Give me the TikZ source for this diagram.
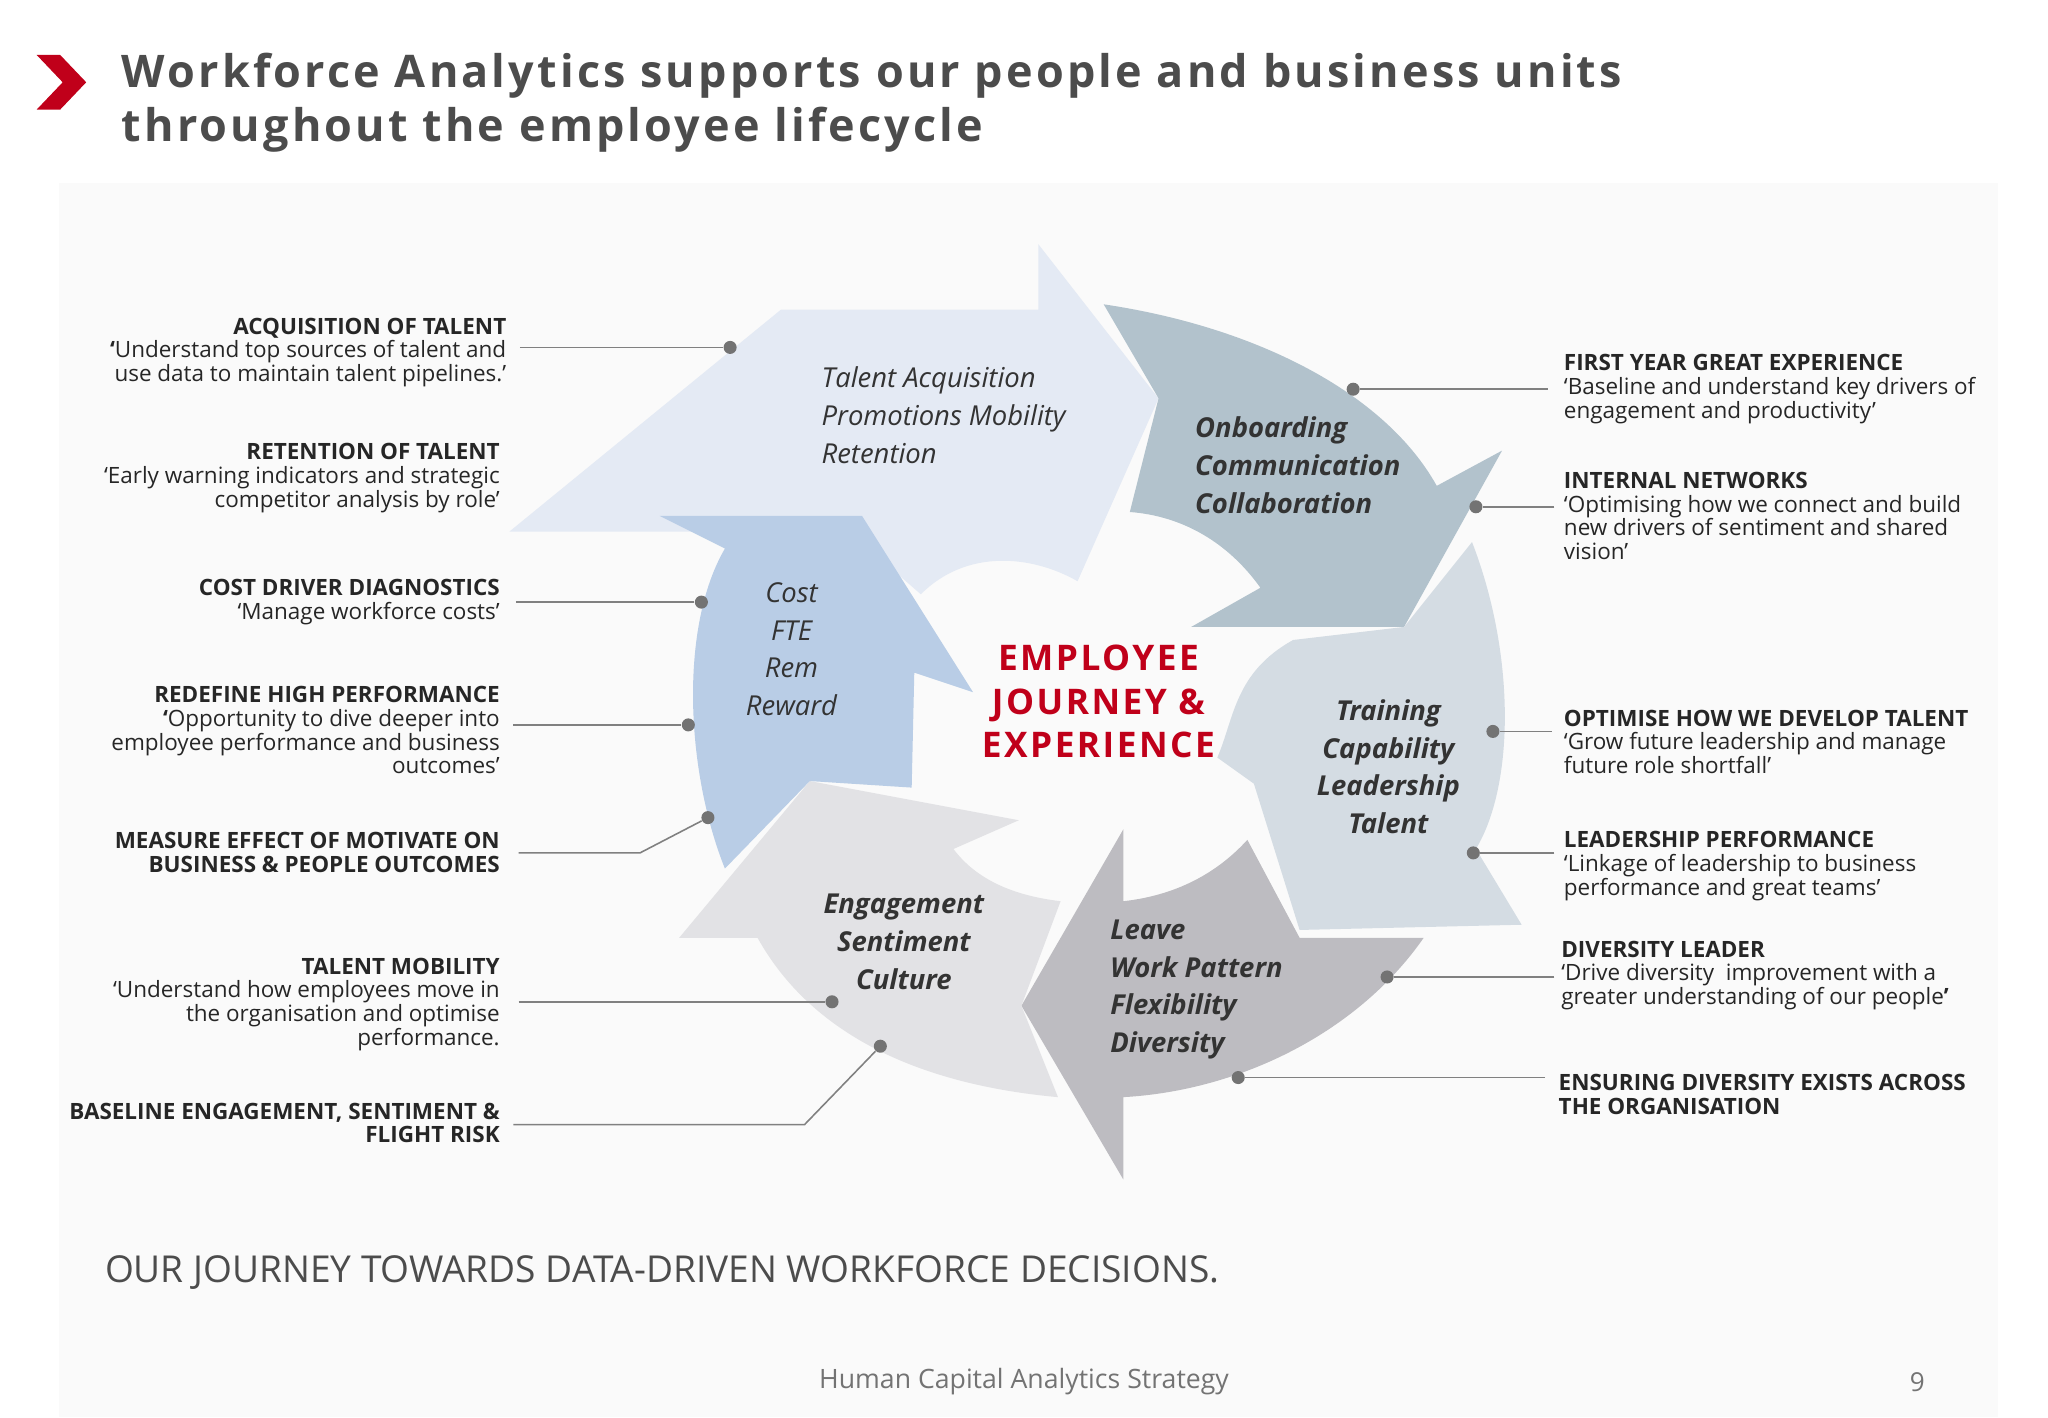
\documentclass[tikz,border=0pt]{standalone}
\usepackage{fontspec}
\setmainfont{Open Sans}
\newfontfamily\titlefont[LetterSpace=7]{Open Sans}
\definecolor{cA}{HTML}{E4EAF4}
\definecolor{cB}{HTML}{B2C2CC}
\definecolor{cC}{HTML}{D4DCE3}
\definecolor{cD}{HTML}{BDBCC1}
\definecolor{cE}{HTML}{E2E2E5}
\definecolor{cF}{HTML}{B9CDE6}
\definecolor{redc}{HTML}{C0001A}
\begin{document}
\begin{tikzpicture}[x=0.5pt,y=-0.5pt,
  lab/.style={font=\fontsize{8.6}{9.1}\selectfont,inner sep=0pt,text=black!85},
  labl/.style={lab,align=right,anchor=north east},
  labr/.style={lab,align=left,anchor=north west},
  conn/.style={draw=black!50,line width=0.6pt},
  dot/.style={circle,fill=black!55,inner sep=0pt,minimum size=5pt},
  cyc/.style={font=\fontsize{10.5}{14.5}\selectfont\itshape,align=left,text=black!80},
  cycb/.style={cyc,font=\fontsize{10.5}{14.5}\selectfont\bfseries\itshape}]
\useasboundingbox (0,0) rectangle (1568,1085);
\fill[white] (0,0) rectangle (1568,1085);
\fill[black!2] (45,140) rectangle (1530,1085);
% logo
\fill[redc] (28,42) -- (46,42) -- (66,63) -- (46,84) -- (28,84) -- (48,63) -- cycle;
\node[anchor=north west,inner sep=0pt,align=left,text=black!70,font=\titlefont\fontsize{17.2}{21}\selectfont\bfseries] (title) at (93,40) {Workforce Analytics supports our people and business units\\throughout the employee lifecycle};
% arrows
\fill[cA] (390,407) -- (598,237) -- (795,237) -- (795,187) -- (887,305) -- (825,445)
  .. controls (790,425) and (740,420) .. (705,455) -- (650,407) -- cycle;
\fill[cB] (845,233) .. controls (960,250) and (1060,300) .. (1100,372) -- (1150,345) -- (1075,480) -- (912,480) -- (965,450)
  .. controls (940,415) and (905,395) .. (865,392) -- (887,305) -- cycle;
\fill[cC] (1075,480) -- (1127,415) .. controls (1160,500) and (1160,600) .. (1130,650) -- (1165,708) -- (995,712) -- (960,600) -- (932,580)
  .. controls (945,550) and (945,515) .. (990,490) -- cycle;
\fill[cD] (1090,718) .. controls (1040,790) and (950,835) .. (860,840) -- (860,903) -- (782,770) -- (860,635) -- (860,690)
  .. controls (905,685) and (935,665) .. (955,643) -- (995,718) -- cycle;
\fill[cE] (620,598) -- (780,628) -- (730,650) .. controls (745,670) and (770,685) .. (812,690) -- (782,770) -- (810,840)
  .. controls (700,830) and (620,790) .. (580,718) -- (520,718) -- cycle;
\fill[cF] (505,395) -- (660,395) -- (745,530) -- (700,515) -- (698,603) -- (620,598) -- (555,665)
  .. controls (525,590) and (520,480) .. (555,420) -- cycle;
% cycle texts
\node[cyc,anchor=north west] (ta) at (622,274) {Talent Acquisition\\Promotions Mobility\\Retention};
\node[cycb,anchor=north west] (ob) at (908,312) {Onboarding\\Communication\\Collaboration};
\node[cyc,align=center] (cf) at (606,497) {Cost\\FTE\\Rem\\Reward};
\node[cycb,align=center] (tr) at (1063,587) {Training\\Capability\\Leadership\\Talent};
\node[cycb,align=center] (en) at (692,721) {Engagement\\Sentiment\\Culture};
\node[cycb,anchor=north west] (lv) at (843,697) {Leave\\Work Pattern\\Flexibility\\Diversity};
\node[align=center,text=redc,font=\titlefont\fontsize{13.5}{16.5}\selectfont\bfseries] (ctr) at (841,537) {EMPLOYEE\\JOURNEY \&\\EXPERIENCE};
% left labels
\node[labl] (l1) at (388,243) {\textbf{ACQUISITION OF TALENT}\\\textbf{‘}Understand top sources of talent and\\use data to maintain talent pipelines.’};
\node[labl] (l2) at (383,339) {\textbf{RETENTION OF TALENT}\\‘Early warning indicators and strategic\\competitor analysis by role’};
\node[labl] (l3) at (383,443) {\textbf{COST DRIVER DIAGNOSTICS}\\‘Manage workforce costs’};
\node[labl] (l4) at (383,525) {\textbf{REDEFINE HIGH PERFORMANCE}\\\textbf{‘}Opportunity to dive deeper into\\employee performance and business\\outcomes’};
\node[labl] (l5) at (383,637) {\textbf{MEASURE EFFECT OF MOTIVATE ON}\\\textbf{BUSINESS \& PEOPLE OUTCOMES}};
\node[labl] (l6) at (383,733) {\textbf{TALENT MOBILITY}\\‘Understand how employees move in\\the organisation and optimise\\performance.};
\node[labl] (l7) at (383,844) {\textbf{BASELINE ENGAGEMENT, SENTIMENT \&}\\\textbf{FLIGHT RISK}};
% right labels
\node[labr] (r1) at (1197,271) {\textbf{FIRST YEAR GREAT EXPERIENCE}\\‘Baseline and understand key drivers of\\engagement and productivity’};
\node[labr] (r2) at (1197,361) {\textbf{INTERNAL NETWORKS}\\‘Optimising how we connect and build\\new drivers of sentiment and shared\\vision’};
\node[labr] (r3) at (1197,543) {\textbf{OPTIMISE HOW WE DEVELOP TALENT}\\‘Grow future leadership and manage\\future role shortfall’};
\node[labr] (r4) at (1197,636) {\textbf{LEADERSHIP PERFORMANCE}\\‘Linkage of leadership to business\\performance and great teams’};
\node[labr] (r5) at (1195,720) {\textbf{DIVERSITY LEADER}\\‘Drive diversity\ \ improvement with a\\greater understanding of our people\textbf{’}};
\node[labr] (r6) at (1193,822) {\textbf{ENSURING DIVERSITY EXISTS ACROSS}\\\textbf{THE ORGANISATION}};
% connectors
\coordinate (a1) at (398,266); \node[dot] (d1) at (559,266) {}; \draw[conn] (a1) -- (d1);
\coordinate (a3) at (395,461); \node[dot] (d3) at (537,461) {}; \draw[conn] (a3) -- (d3);
\coordinate (a4) at (393,555); \node[dot] (d4) at (527,555) {}; \draw[conn] (a4) -- (d4);
\coordinate (a5) at (397,653); \coordinate (b5) at (490,653); \node[dot] (d5) at (542,626) {}; \draw[conn] (a5) -- (b5) -- (d5);
\coordinate (a6) at (397,767); \node[dot] (d6) at (637,767) {}; \draw[conn] (a6) -- (d6);
\coordinate (a7) at (393,861); \coordinate (b7) at (616,861); \node[dot] (d7) at (674,801) {}; \draw[conn] (a7) -- (b7) -- (d7);
\coordinate (c1) at (1185,298); \node[dot] (e1) at (1036,298) {}; \draw[conn] (c1) -- (e1);
\coordinate (c2) at (1190,388); \node[dot] (e2) at (1130,388) {}; \draw[conn] (c2) -- (e2);
\coordinate (c3) at (1188,560); \node[dot] (e3) at (1143,560) {}; \draw[conn] (c3) -- (e3);
\coordinate (c4) at (1190,653); \node[dot] (e4) at (1128,653) {}; \draw[conn] (c4) -- (e4);
\coordinate (c5) at (1190,748); \node[dot] (e5) at (1062,748) {}; \draw[conn] (c5) -- (e5);
\coordinate (c6) at (1183,825); \node[dot] (e6) at (948,825) {}; \draw[conn] (c6) -- (e6);
% footer
\node[anchor=west,inner sep=0pt,text=black!70,font=\fontsize{14.2}{16}\selectfont] (jr) at (80,974) {OUR JOURNEY TOWARDS DATA-DRIVEN WORKFORCE DECISIONS.};
\node[inner sep=0pt,text=black!55,font=\fontsize{10.2}{12}\selectfont] (ft) at (784,1058) {Human Capital Analytics Strategy};
\node[inner sep=0pt,text=black!55,font=\fontsize{10}{12}\selectfont] (pg) at (1468,1058) {9};
\end{tikzpicture}
\end{document}
